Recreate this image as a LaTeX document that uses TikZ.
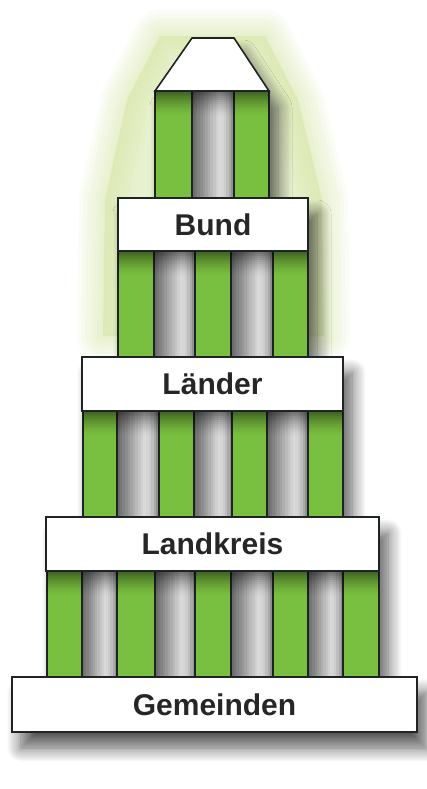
\documentclass[tikz,border=0pt]{standalone}
\usepackage{fontspec}
\setmainfont{Liberation Sans}
\usetikzlibrary{shadows.blur}
\definecolor{colgreen}{RGB}{122,192,64}
\definecolor{edge}{RGB}{30,35,35}
\definecolor{glowc}{RGB}{208,226,155}
\tikzset{
  levelbox/.style={draw=edge, line width=1.6pt, fill=white, rectangle, inner sep=0pt,
    font=\fontsize{30}{36}\selectfont\bfseries, text=black!85},
  pillar/.style={draw=edge, line width=1.2pt, fill=colgreen},
}
% gap between pillars: x1, x2, y1, y2
\newcommand\mygapfill[4]{%
  \foreach \i in {0,...,15} {%
    \pgfmathsetmacro\xa{#1+(#2-#1)*\i/16}%
    \pgfmathsetmacro\xb{#1+(#2-#1)*(\i+1)/16+0.4}%
    \pgfmathsetmacro\tt{(\i+0.5)/16}%
    \pgfmathsetmacro\p{\tt<0.65 ? 60-70*\tt : 15+70*(\tt-0.65)^2*4}%
    \fill[black!\p] (\xa,#3) rectangle (\xb,#4);
  }}
% shade under a box: x1, x2, ytop
\newcommand\mytopshade[3]{%
  \foreach \j in {0,...,11} {%
    \pgfmathsetmacro\op{0.45*(1-\j/12)^1.5}%
    \fill[black, opacity=\op] (#1,#3+\j*2) rectangle (#2,#3+\j*2+2.1);
  }}
\begin{document}
\begin{tikzpicture}[x=1pt,y=-1pt]
\useasboundingbox (0,0) rectangle (427,789);
% green glow
\foreach \w in {52,44,36,28,20,12,4}
  \draw[glowc, fill=glowc, line width=\w pt, line join=round, opacity=0.09]
  (160,36) -- (265,36) -- (298,100) -- (322,200) -- (324,336) -- (103,336) -- (105,200) -- (127,100) -- cycle;
% structure drop shadow
\path[fill=white, blur shadow={shadow xshift=9pt, shadow yshift=-16pt, shadow blur radius=14pt, shadow blur steps=14, shadow opacity=65}]
  (192,38) -- (234,38) -- (269,91) -- (269,198) -- (308,198) -- (308,357) -- (343,357) -- (343,517)
  -- (379,517) -- (379,677) -- (417,677) -- (417,732) -- (12,732) -- (12,677) -- (47,677) -- (47,517)
  -- (82,517) -- (82,357) -- (118,357) -- (118,198) -- (155,198) -- (155,91) -- cycle;
% top level
\mygapfill{192}{234}{91}{198}
\foreach \a/\b in {155/192,234/269} \draw[pillar] (\a,91) rectangle (\b,198);
\mytopshade{155}{269}{92}
\draw[edge, line width=1.6pt, fill=white] (155,91) -- (192,38) -- (234,38) -- (269,91) -- cycle;
% Bund level
\foreach \a/\b in {154/195,231/273} {\mygapfill{\a}{\b}{251}{357}}
\foreach \a/\b in {118/154,195/231,273/308} \draw[pillar] (\a,251) rectangle (\b,357);
\mytopshade{118}{308}{252}
% Laender level
\foreach \a/\b in {117/159,194/232,267/308} {\mygapfill{\a}{\b}{411}{517}}
\foreach \a/\b in {83/117,159/194,232/267,308/343} \draw[pillar] (\a,411) rectangle (\b,517);
\mytopshade{83}{343}{412}
% Landkreis level
\foreach \a/\b in {82/117,155/195,231/273,308/343} {\mygapfill{\a}{\b}{571}{677}}
\foreach \a/\b in {47/82,117/155,195/231,273/308,343/379} \draw[pillar] (\a,571) rectangle (\b,677);
\mytopshade{47}{379}{572}
% boxes
\node[levelbox, minimum width=190pt, minimum height=53pt] (bund) at (213,224.5) {Bund};
\node[levelbox, minimum width=261pt, minimum height=54pt] (laender) at (212.5,384) {Länder};
\node[levelbox, minimum width=333pt, minimum height=54pt] (landkreis) at (212.5,544) {Landkreis};
\node[levelbox, minimum width=405pt, minimum height=55pt] (gemeinden) at (214.5,704.5) {Gemeinden};
\end{tikzpicture}
\end{document}
